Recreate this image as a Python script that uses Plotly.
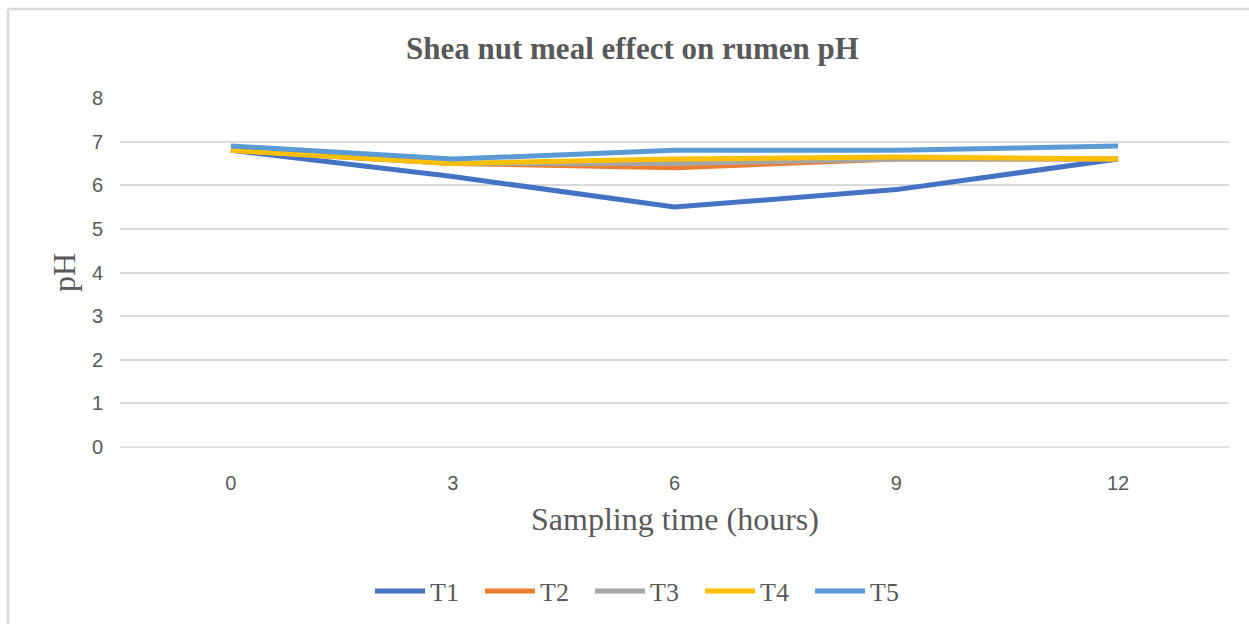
import plotly.graph_objects as go

times = ["0", "3", "6", "9", "12"]
series_names = ["T1", "T2", "T3", "T4", "T5"]
t1 = [6.8, 6.2, 5.5, 5.9, 6.6]
t2 = [6.8, 6.5, 6.4, 6.6, 6.6]
t3 = [6.8, 6.5, 6.5, 6.6, 6.6]
t4 = [6.8, 6.5, 6.6, 6.65, 6.6]
t5 = [6.9, 6.6, 6.8, 6.8, 6.9]
y_ticks = [0, 1, 2, 3, 4, 5, 6, 7, 8]

colors = ["#4472C4", "#ED7D31", "#A5A5A5", "#FFC000", "#5B9BD5"]
values = [t1, t2, t3, t4, t5]

fig = go.Figure()
for name, vals, c in zip(series_names, values, colors):
    fig.add_trace(go.Scatter(x=times, y=vals, name=name, mode="lines",
                             line=dict(color=c, width=5)))

W, H = 1249, 624
L, R, T, B = 120, 20, 98, 177
pw, ph = W - L - R, H - T - B

def px(x):
    return (x - L) / pw

def py(y):
    return (H - B - y) / ph

fig.update_layout(
    width=W, height=H,
    margin=dict(l=L, r=R, t=T, b=B, pad=0, autoexpand=False),
    paper_bgcolor="white", plot_bgcolor="white",
    showlegend=True,
    legend=dict(orientation="h", x=px(645), xanchor="center", y=py(591), yanchor="middle",
                font=dict(family="Liberation Serif", size=26, color="#595959"),
                itemwidth=50, entrywidth=45, tracegroupgap=0),
    xaxis=dict(type="category", range=[-0.5, 4.5], showgrid=False, zeroline=False,
               showline=False, ticks="", tickfont=dict(family="Liberation Sans", size=20, color="#595959"),
               ticklabelstandoff=22),
    yaxis=dict(range=[0, 8], tickvals=y_ticks, showgrid=True, gridcolor="#D9D9D9", gridwidth=1.5,
               zeroline=False, showline=False, ticks="",
               tickfont=dict(family="Liberation Sans", size=20, color="#595959"),
               ticklabelstandoff=16),
    annotations=[
        dict(text="<b>Shea nut meal effect on rumen pH</b>", xref="paper", yref="paper",
             x=px(632), y=py(48), xanchor="center", yanchor="middle", showarrow=False,
             font=dict(family="Liberation Serif", size=31, color="#595959")),
        dict(text="Sampling time (hours)", xref="paper", yref="paper",
             x=px(675), y=py(519), xanchor="center", yanchor="middle", showarrow=False,
             font=dict(family="Liberation Serif", size=32, color="#595959")),
        dict(text="pH", xref="paper", yref="paper", textangle=-90,
             x=px(64), y=py(273), xanchor="center", yanchor="middle", showarrow=False,
             font=dict(family="Liberation Serif", size=32, color="#595959")),
    ],
    shapes=[
        dict(type="line", xref="paper", yref="paper", x0=px(8), x1=px(1260), y0=py(9), y1=py(9),
             line=dict(color="#D9D9D9", width=2.5)),
        dict(type="line", xref="paper", yref="paper", x0=px(8), x1=px(8), y0=py(9), y1=py(640),
             line=dict(color="#D9D9D9", width=2.5)),
        dict(type="line", xref="paper", yref="paper", x0=0, x1=1, y0=0, y1=0, layer="below",
             line=dict(color="#D9D9D9", width=1.5)),
    ],
)

fig.write_html("out.html")
